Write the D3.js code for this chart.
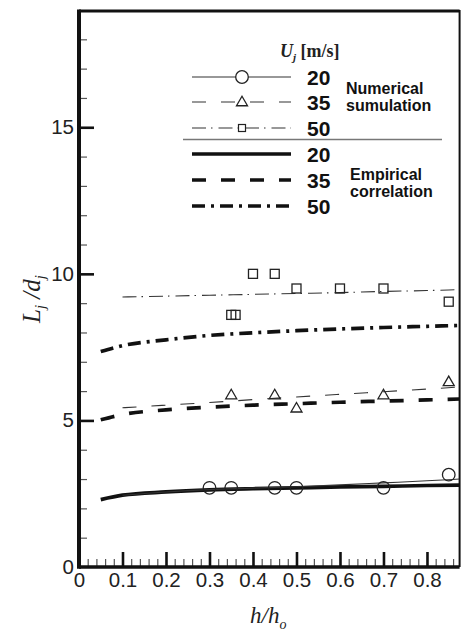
<!DOCTYPE html>
<html>
<head>
<meta charset="utf-8">
<script src="https://cdn.jsdelivr.net/npm/d3@7"></script>
<style>
  html, body { margin: 0; padding: 0; background: #fff; }
  svg { display: block; }
</style>
</head>
<body>
<svg id="chart" width="461" height="633"></svg>
<script>
// ---- data ----
// Numerical simulation points (h/ho, Lj/dj)
const hU20 = [0.3, 0.35, 0.45, 0.5, 0.7, 0.85];
const LU20 = [2.7, 2.7, 2.7, 2.7, 2.7, 3.15];
const hU35 = [0.35, 0.45, 0.5, 0.7, 0.85];
const LU35 = [5.9, 5.9, 5.45, 5.9, 6.35];
const hU50 = [0.35, 0.36, 0.4, 0.45, 0.5, 0.6, 0.7, 0.85];
const LU50 = [8.6, 8.6, 10, 10, 9.5, 9.5, 9.5, 9.05];

// Fitted curves through the numerical results
const hFitNum = [0.1, 0.2, 0.3, 0.4, 0.5, 0.6, 0.7, 0.8, 0.875];
const fitNum20 = [2.45, 2.56, 2.64, 2.69, 2.74, 2.80, 2.87, 2.94, 3.0];
const fitNum35 = [5.43, 5.52, 5.61, 5.71, 5.80, 5.89, 5.98, 6.07, 6.14];
const fitNum50 = [9.21, 9.24, 9.27, 9.30, 9.33, 9.36, 9.40, 9.43, 9.46];

// Empirical correlation curves
const hEmp = [0.05, 0.1, 0.2, 0.3, 0.4, 0.5, 0.6, 0.7, 0.8, 0.875];
const emp20 = [2.3, 2.45, 2.56, 2.63, 2.67, 2.70, 2.73, 2.75, 2.78, 2.79];
const emp35 = [5.02, 5.2, 5.36, 5.45, 5.52, 5.57, 5.62, 5.66, 5.70, 5.73];
const emp50 = [7.35, 7.55, 7.75, 7.9, 7.99, 8.06, 8.12, 8.17, 8.21, 8.24];

const xMajorTicks = [0, 0.1, 0.2, 0.3, 0.4, 0.5, 0.6, 0.7, 0.8];
const yMajorTicks = [0, 5, 10, 15];
const speeds = ["20", "35", "50"];

// ---- layout ----
const svg = d3.select("#chart");
const X0 = 79, X1 = 459.6, Y0 = 567, Y1 = 10;
const x = d3.scaleLinear().domain([0, 0.875]).range([X0, X1]);
const y = d3.scaleLinear().domain([0, 19]).range([Y0, Y1]);

const SANS = "'Liberation Sans', Arial, Helvetica, sans-serif";
const SERIF = "'Liberation Serif', 'Times New Roman', serif";

// clip for curves
svg.append("defs").append("clipPath").attr("id", "plotClip")
  .append("rect").attr("x", X0).attr("y", Y1).attr("width", X1 - X0).attr("height", Y0 - Y1);

// ---- axes ----
const xMinor = d3.range(1, 44).map(i => i * 0.02).filter(v => Math.abs(v * 10 - Math.round(v * 10)) > 1e-6);
const yMinor = d3.range(1, 19).filter(v => v % 5 !== 0);

const gxMinor = svg.append("g").attr("transform", `translate(0,${Y0})`)
  .call(d3.axisBottom(x).tickValues(xMinor).tickSize(-8).tickFormat(""));
const gx = svg.append("g").attr("transform", `translate(0,${Y0})`)
  .call(d3.axisBottom(x).tickValues(xMajorTicks).tickSize(-15).tickPadding(5)
    .tickFormat(d => d === 0 ? "0" : d3.format(".1f")(d)));
const gyMinor = svg.append("g").attr("transform", `translate(${X0},0)`)
  .call(d3.axisLeft(y).tickValues(yMinor).tickSize(-8).tickFormat(""));
const gy = svg.append("g").attr("transform", `translate(${X0},0)`)
  .call(d3.axisLeft(y).tickValues(yMajorTicks).tickSize(-15).tickPadding(5).tickFormat(d3.format("d")));

[gx, gy, gxMinor, gyMinor].forEach(g => g.select(".domain").remove());
[gxMinor, gyMinor].forEach(g => g.selectAll(".tick line").attr("stroke", "#555").attr("stroke-width", 1.2));
[gx, gy].forEach(g => {
  g.selectAll(".tick line").attr("stroke", "#111").attr("stroke-width", 2.6);
  g.selectAll(".tick text").attr("font-family", SANS).attr("font-size", 20.5).attr("fill", "#222");
});
// the origin tick is the frame corner
gx.selectAll(".tick").filter(d => d === 0).select("line").remove();
gy.selectAll(".tick").filter(d => d === 0).select("line").remove();

// ---- frame ----
const frame = svg.append("g").attr("stroke", "#111").attr("fill", "none");
frame.append("line").attr("x1", X0).attr("x2", X1).attr("y1", Y1 + 1).attr("y2", Y1 + 1).attr("stroke-width", 3);
frame.append("line").attr("x1", X1).attr("x2", X1).attr("y1", Y1).attr("y2", Y0).attr("stroke-width", 2);
frame.append("line").attr("x1", X0).attr("x2", X1).attr("y1", Y0).attr("y2", Y0).attr("stroke-width", 3.5);
frame.append("line").attr("x1", X0).attr("x2", X0).attr("y1", Y1 - 0.5).attr("y2", Y0 + 1.7).attr("stroke-width", 4);

// ---- line styles ----
const styles = {
  num20: { w: 1.1, dash: null, color: "#333" },
  num35: { w: 1.1, dash: "14 15", color: "#333" },
  num50: { w: 1.1, dash: "14 5 1.5 6", color: "#333" },
  emp20: { w: 3.7, dash: null, color: "#111" },
  emp35: { w: 3.7, dash: "14 15", color: "#111" },
  emp50: { w: 3.7, dash: "13 6 3 6", color: "#111" }
};

const line = d3.line().x(d => x(d[0])).y(d => y(d[1])).curve(d3.curveMonotoneX);
const curves = svg.append("g").attr("clip-path", "url(#plotClip)").attr("fill", "none");
function drawCurve(hs, vs, st) {
  curves.append("path").datum(hs.map((h, i) => [h, vs[i]]))
    .attr("d", line).attr("stroke", st.color).attr("stroke-width", st.w)
    .attr("stroke-dasharray", st.dash).attr("stroke-linecap", "butt");
}
drawCurve(hEmp, emp20, styles.emp20);
drawCurve(hEmp, emp35, styles.emp35);
drawCurve(hEmp, emp50, styles.emp50);
drawCurve(hFitNum, fitNum20, styles.num20);
drawCurve(hFitNum, fitNum35, styles.num35);
drawCurve(hFitNum, fitNum50, styles.num50);

// ---- markers ----
const marks = svg.append("g").attr("fill", "none").attr("stroke", "#222").attr("stroke-width", 1.3);
function triPath(w, h) {
  return `M0,${-h / 2}L${w / 2},${h / 2}L${-w / 2},${h / 2}Z`;
}
marks.selectAll("circle.u20").data(hU20.map((h, i) => [h, LU20[i]])).join("circle")
  .attr("cx", d => x(d[0])).attr("cy", d => y(d[1])).attr("r", 6.3);
marks.selectAll("path.u35").data(hU35.map((h, i) => [h, LU35[i]])).join("path")
  .attr("class", "u35")
  .attr("transform", d => `translate(${x(d[0])},${y(d[1])})`).attr("d", triPath(11, 9.5));
marks.selectAll("rect.u50").data(hU50.map((h, i) => [h, LU50[i]])).join("rect")
  .attr("x", d => x(d[0]) - 4.5).attr("y", d => y(d[1]) - 4.5).attr("width", 9).attr("height", 9);

// ---- legend ----
const leg = svg.append("g");
const lx0 = 192, lx1 = 291, lmid = 242, ltxt = 307;
const rowsNum = [77, 102, 128];
const rowsEmp = [154, 180, 206];

const title = leg.append("text").attr("x", 280).attr("y", 57)
  .attr("font-family", SERIF).attr("font-size", 18).attr("font-weight", "bold").attr("fill", "#222");
title.append("tspan").attr("font-style", "italic").text("U");
title.append("tspan").attr("font-style", "italic").attr("font-size", 11).attr("dy", 4).text("j");
title.append("tspan").attr("dy", -4).text(" [m/s]");

["num20", "num35", "num50"].forEach((k, i) => {
  const st = styles[k];
  leg.append("line").attr("x1", lx0).attr("x2", lx1).attr("y1", rowsNum[i]).attr("y2", rowsNum[i])
    .attr("stroke", st.color).attr("stroke-width", st.w).attr("stroke-dasharray", st.dash);
});
["emp20", "emp35", "emp50"].forEach((k, i) => {
  const st = styles[k];
  leg.append("line").attr("x1", lx0).attr("x2", lx1).attr("y1", rowsEmp[i]).attr("y2", rowsEmp[i])
    .attr("stroke", st.color).attr("stroke-width", st.w).attr("stroke-dasharray", st.dash);
});
leg.append("circle").attr("cx", lmid).attr("cy", rowsNum[0]).attr("r", 6.3)
  .attr("fill", "#fff").attr("stroke", "#222").attr("stroke-width", 1.3);
leg.append("path").attr("transform", `translate(${lmid},${rowsNum[1] - 1})`).attr("d", triPath(11, 9.5))
  .attr("fill", "#fff").attr("stroke", "#222").attr("stroke-width", 1.3);
leg.append("rect").attr("x", lmid - 3.5).attr("y", rowsNum[2] - 3.5).attr("width", 7).attr("height", 7)
  .attr("fill", "none").attr("stroke", "#222").attr("stroke-width", 1.2);

rowsNum.concat(rowsEmp).forEach((ry, i) => {
  leg.append("text").attr("x", ltxt).attr("y", ry + 7.5)
    .attr("font-family", SANS).attr("font-size", 21).attr("font-weight", "bold").attr("fill", "#111")
    .text(speeds[i % 3]);
});
leg.append("line").attr("x1", 183).attr("x2", 442).attr("y1", 139.5).attr("y2", 139.5)
  .attr("stroke", "#777").attr("stroke-width", 1.6);

const groupLabel = (lines, x0, y0) => lines.forEach((t, i) =>
  leg.append("text").attr("x", x0).attr("y", y0 + i * 17)
    .attr("font-family", SANS).attr("font-size", 16).attr("font-weight", "bold").attr("fill", "#111").text(t));
groupLabel(["Numerical", "sumulation"], 346, 94);
groupLabel(["Empirical", "correlation"], 350, 180);

// ---- axis titles ----
const xt = svg.append("text").attr("x", 250).attr("y", 623)
  .attr("font-family", SERIF).attr("font-size", 23).attr("font-style", "italic").attr("fill", "#222");
xt.append("tspan").text("h/h");
xt.append("tspan").attr("font-size", 14).attr("dy", 6).text("o");

const yt = svg.append("text").attr("transform", "translate(40,299) rotate(-90)")
  .attr("text-anchor", "middle")
  .attr("font-family", SERIF).attr("font-size", 25).attr("font-style", "italic").attr("fill", "#222");
yt.append("tspan").text("L");
yt.append("tspan").attr("font-size", 15).attr("dy", 5).text("j");
yt.append("tspan").attr("dy", -5).text(" /d");
yt.append("tspan").attr("font-size", 15).attr("dy", 5).text("j");
</script>
</body>
</html>
